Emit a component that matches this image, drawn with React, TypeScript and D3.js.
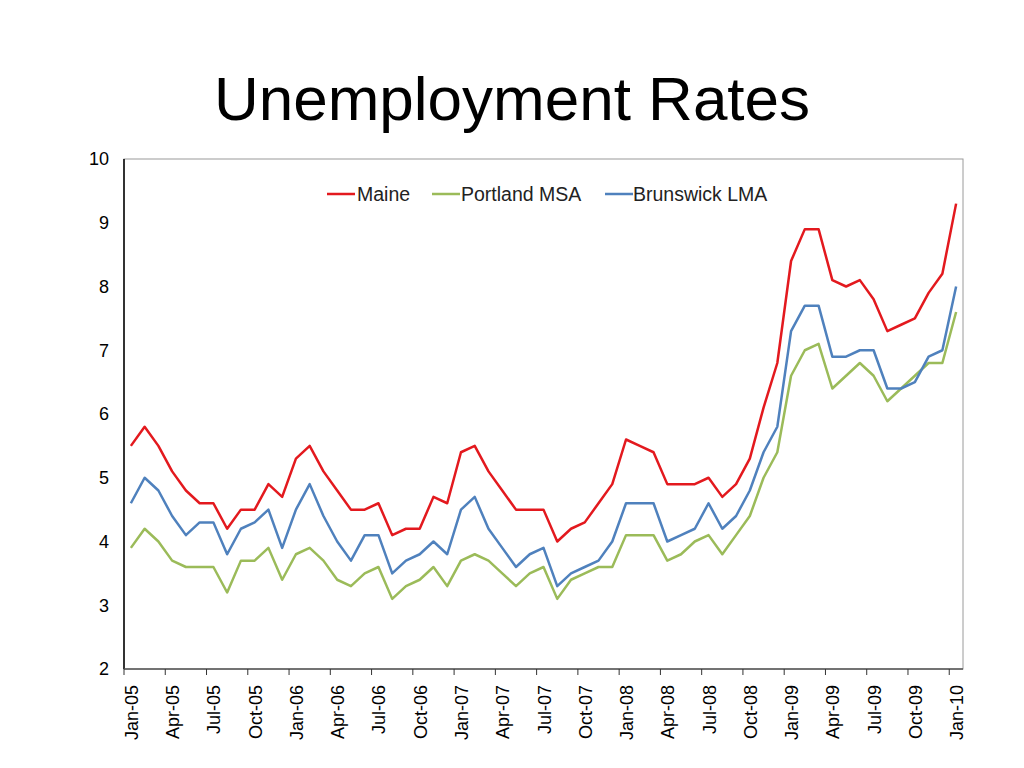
import React from "react";
import * as d3 from "d3";

const months = ["Jan","Feb","Mar","Apr","May","Jun","Jul","Aug","Sep","Oct","Nov","Dec"];
const categories: string[] = [];
for (let y = 5; y <= 10; y++) {
  for (let m = 0; m < 12; m++) {
    if (y === 10 && m > 0) break;
    categories.push(`${months[m]}-${String(y).padStart(2, "0")}`);
  }
}

const maine = [
  5.5, 5.8, 5.5, 5.1, 4.8, 4.6, 4.6, 4.2, 4.5, 4.5, 4.9, 4.7,
  5.3, 5.5, 5.1, 4.8, 4.5, 4.5, 4.6, 4.1, 4.2, 4.2, 4.7, 4.6,
  5.4, 5.5, 5.1, 4.8, 4.5, 4.5, 4.5, 4.0, 4.2, 4.3, 4.6, 4.9,
  5.6, 5.5, 5.4, 4.9, 4.9, 4.9, 5.0, 4.7, 4.9, 5.3, 6.1, 6.8,
  8.4, 8.9, 8.9, 8.1, 8.0, 8.1, 7.8, 7.3, 7.4, 7.5, 7.9, 8.2,
  9.3,
];
const portland = [
  3.9, 4.2, 4.0, 3.7, 3.6, 3.6, 3.6, 3.2, 3.7, 3.7, 3.9, 3.4,
  3.8, 3.9, 3.7, 3.4, 3.3, 3.5, 3.6, 3.1, 3.3, 3.4, 3.6, 3.3,
  3.7, 3.8, 3.7, 3.5, 3.3, 3.5, 3.6, 3.1, 3.4, 3.5, 3.6, 3.6,
  4.1, 4.1, 4.1, 3.7, 3.8, 4.0, 4.1, 3.8, 4.1, 4.4, 5.0, 5.4,
  6.6, 7.0, 7.1, 6.4, 6.6, 6.8, 6.6, 6.2, 6.4, 6.6, 6.8, 6.8,
  7.6,
];
const brunswick = [
  4.6, 5.0, 4.8, 4.4, 4.1, 4.3, 4.3, 3.8, 4.2, 4.3, 4.5, 3.9,
  4.5, 4.9, 4.4, 4.0, 3.7, 4.1, 4.1, 3.5, 3.7, 3.8, 4.0, 3.8,
  4.5, 4.7, 4.2, 3.9, 3.6, 3.8, 3.9, 3.3, 3.5, 3.6, 3.7, 4.0,
  4.6, 4.6, 4.6, 4.0, 4.1, 4.2, 4.6, 4.2, 4.4, 4.8, 5.4, 5.8,
  7.3, 7.7, 7.7, 6.9, 6.9, 7.0, 7.0, 6.4, 6.4, 6.5, 6.9, 7.0,
  8.0,
];
const yTicks = [2, 3, 4, 5, 6, 7, 8, 9, 10];
const seriesNames = ["Maine", "Portland MSA", "Brunswick LMA"];
const seriesColors = ["#e3191e", "#9bbb59", "#4f81bd"];

export default function App() {
  const W = 1024, H = 768;
  const left = 124, right = 963, top = 159, bottom = 669;
  const x = d3.scaleBand<string>().domain(categories).range([left, right]).padding(0);
  const y = d3.scaleLinear().domain([2, 10]).range([bottom, top]);
  const cx = (i: number) => (x(categories[i]) as number) + x.bandwidth() / 2;
  const line = d3.line<number>().x((_, i) => cx(i)).y((d) => y(d));
  const data = [maine, portland, brunswick];
  const font = "'Liberation Sans', Arial, sans-serif";
  const tickIdx = d3.range(0, categories.length, 3);

  const legendItems = [
    { lx: 327, tx: 357 },
    { lx: 432, tx: 461 },
    { lx: 605, tx: 633 },
  ];

  return (
    <div style={{ position: "absolute", left: 0, top: 0 }}>
      <svg width={W} height={H} style={{ display: "block", background: "#fff" }}>
        <text x={512} y={120} textAnchor="middle" fontFamily={font} fontSize={62} fill="#000">
          Unemployment Rates
        </text>
        {/* plot border */}
        <rect x={left} y={top} width={right - left} height={bottom - top} fill="none" stroke="#9a9a9a" strokeWidth={1} />
        {/* axes */}
        <line x1={left} x2={left} y1={top} y2={bottom} stroke="#000" strokeWidth={1.5} />
        <line x1={left} x2={right} y1={bottom} y2={bottom} stroke="#555" strokeWidth={1.5} />
        {yTicks.map((t) => (
          <text key={t} x={109} y={y(t)} dy="0.35em" textAnchor="end" fontFamily={font} fontSize={18} fill="#000">
            {t}
          </text>
        ))}
        {tickIdx.map((i) => {
          const xb = x(categories[i]) as number;
          return (
            <g key={i}>
              <line x1={xb} x2={xb} y1={bottom} y2={bottom + 6} stroke="#333" strokeWidth={1} />
              <text
                transform={`translate(${cx(i) + 7},${bottom + 16}) rotate(-90)`}
                textAnchor="end"
                fontFamily={font}
                fontSize={18}
                fill="#000"
              >
                {categories[i]}
              </text>
            </g>
          );
        })}
        {data.map((s, k) => (
          <path key={k} d={line(s) as string} fill="none" stroke={seriesColors[k]} strokeWidth={2.5} strokeLinejoin="round" />
        ))}
        {seriesNames.map((n, k) => (
          <g key={n}>
            <line x1={legendItems[k].lx} x2={legendItems[k].lx + 28} y1={194} y2={194} stroke={seriesColors[k]} strokeWidth={2.5} />
            <text x={legendItems[k].tx} y={194} dy="0.35em" fontFamily={font} fontSize={19.5} fill="#222">
              {n}
            </text>
          </g>
        ))}
      </svg>
    </div>
  );
}
